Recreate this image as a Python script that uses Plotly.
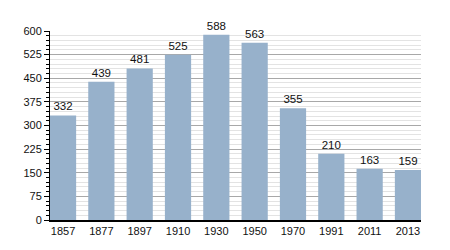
import plotly.graph_objects as go

years = ["1857", "1877", "1897", "1910", "1930", "1950", "1970", "1991", "2011", "2013"]
population = [332, 439, 481, 525, 588, 563, 355, 210, 163, 159]
y_ticks = [0, 75, 150, 225, 300, 375, 450, 525, 600]

fig = go.Figure(go.Bar(
    x=years, y=population,
    marker=dict(color="#97b1cb", line=dict(width=0)),
    text=[str(v) for v in population],
    textposition="outside",
    textfont=dict(family="Liberation Sans, Arial, sans-serif", size=11.5, color="#111"),
    cliponaxis=False,
))

fig.update_layout(
    width=450, height=250,
    margin=dict(l=50, r=29, t=31, b=30),
    paper_bgcolor="white", plot_bgcolor="white",
    bargap=0.316,
    showlegend=False,
    font=dict(family="Liberation Sans, Arial, sans-serif", size=11, color="#111"),
)
fig.update_xaxes(
    type="category", range=[-0.34, 9.34],
    showline=True, linecolor="black", linewidth=1.5,
    ticks="", showgrid=False, tickfont=dict(size=11),
)
fig.update_yaxes(
    range=[0, 600], tickvals=y_ticks, ticktext=[str(v) for v in y_ticks],
    showline=True, linecolor="black", linewidth=1,
    ticks="outside", ticklen=5, tickcolor="black",
    showgrid=True, gridcolor="#a8a8a8", gridwidth=1,
    minor=dict(dtick=15, tick0=0, showgrid=True, gridcolor="#e3e3e3", gridwidth=1,
               ticks="outside", ticklen=3, tickcolor="black"),
    zeroline=False, tickfont=dict(size=11),
)

fig.write_html("out.html")
